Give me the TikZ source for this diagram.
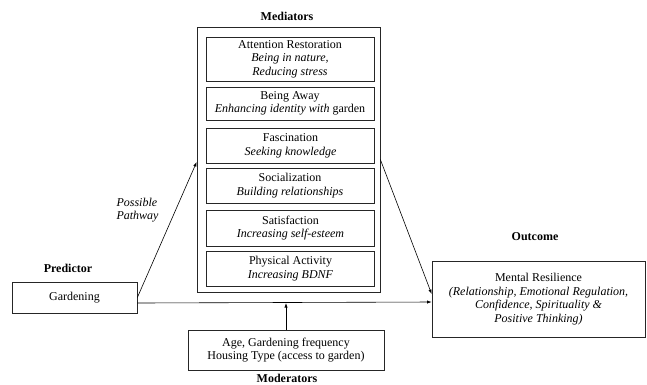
\documentclass[tikz,border=0pt]{standalone}
\usepackage{fontspec}
\setmainfont{Liberation Serif}
\usetikzlibrary{arrows.meta,calc}
\begin{document}
\begin{tikzpicture}[x=1pt,y=-1pt,
  every node/.style={font=\fontsize{12}{13.6}\selectfont},
  box/.style={draw=black!85,line width=0.7pt,inner sep=0pt,align=center},
  medbox/.style={box,minimum width=168pt},
  title/.style={font=\fontsize{12}{13.6}\selectfont\bfseries},
  conn/.style={line width=0.6pt,-{Latex[length=4.5pt,width=3.2pt]}}]
\useasboundingbox (0,0) rectangle (647,384);

\node[title] (medt) at (287,16) {Mediators};
\node[box,minimum width=183pt,minimum height=265pt] (outer) at (288.5,159.5) {};
\node[medbox,minimum height=44pt] (att) at (290,59) {Attention Restoration\\ \textit{Being in nature,}\\ \textit{Reducing stress}};
\node[medbox,minimum height=33pt] (away) at (290,103.5) {Being Away\\ \textit{Enhancing identity with} garden};
\node[medbox,minimum height=35pt] (fasc) at (290.5,145.5) {Fascination\\ \textit{Seeking knowledge}};
\node[medbox,minimum height=35pt] (soc) at (290,185.5) {Socialization\\ \textit{Building relationships}};
\node[medbox,minimum height=36pt] (sat) at (290.5,228) {Satisfaction\\ \textit{Increasing self-esteem}};
\node[medbox,minimum height=35pt] (phys) at (290.5,268.5) {Physical Activity\\ \textit{Increasing BDNF}};

\node[title] (predt) at (68,268) {Predictor};
\node[box,minimum width=125pt,minimum height=31pt] (gard) at (74.5,297.5) {Gardening};

\node[title] (outt) at (535,237) {Outcome};
\node[box,minimum width=213pt,minimum height=76pt] (outc) at (538.5,299) {Mental Resilience\\ \textit{(Relationship, Emotional Regulation,}\\ \textit{Confidence, Spirituality \&}\\ \textit{Positive Thinking)}};

\node[box,minimum width=196pt,minimum height=40pt] (age) at (286,350) {Age, Gardening frequency\\ Housing Type (access to garden)};
\node[title,anchor=base] (modt) at (287,382.5) {Moderators};

\node[anchor=west,align=left,font=\fontsize{12}{13.6}\selectfont\itshape] (path) at (113,210) {Possible\\ Pathway};

\coordinate (h1) at ([yshift=-5.5pt]gard.east);
\draw[conn] (gard.east) -- ([yshift=-2.5pt]outer.west);
\draw[conn] (outer.east) -- ([yshift=5pt]outc.west);
\draw[conn] (h1) -- ([yshift=-3pt]outc.west);
\draw[conn] (age.north) -- (age.north |- h1);
\end{tikzpicture}
\end{document}
